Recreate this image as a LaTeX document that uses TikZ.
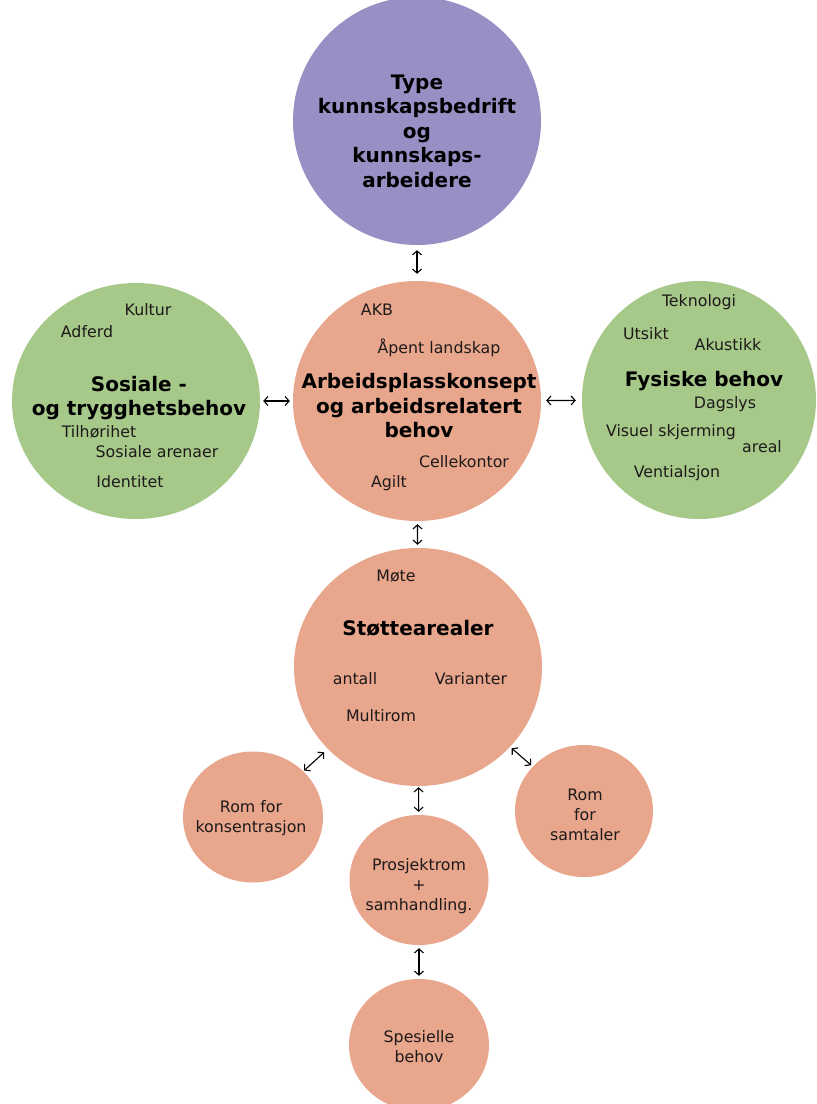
\documentclass[tikz,border=0pt]{standalone}
\usepackage{fontspec}
\setmainfont{DejaVu Sans}
\usetikzlibrary{shapes.geometric,arrows.meta}
\definecolor{lilla}{HTML}{9890C5}
\definecolor{laks}{HTML}{E8A68C}
\definecolor{gress}{HTML}{A6C98A}
\definecolor{skrift}{HTML}{1E1A1A}
\begin{document}
\begin{tikzpicture}[x=1pt,y=-1pt,
  blob/.style={ellipse,inner sep=0pt,draw=none},
  big/.style={font=\fontsize{20}{24.5}\selectfont\bfseries,align=center,inner sep=0pt,text=black},
  small/.style={font=\fontsize{15.8}{20}\selectfont,inner sep=0pt,align=center,text=skrift},
  tip/.tip={Straight Barb[length=4pt,width=9pt]},
  link/.style={tip-tip,line width=1.1pt,black}
]
\useasboundingbox (0,0) rectangle (817,1104);
\fill[white] (0,0) rectangle (817,1104);

% circles
\node[blob,fill=lilla,minimum width=248pt,minimum height=248pt] (type) at (417,121) {};
\node[blob,fill=laks,minimum width=248pt,minimum height=240pt] (arb) at (417,401) {};
\node[blob,fill=gress,minimum width=248pt,minimum height=236pt] (sos) at (136,401) {};
\node[blob,fill=gress,minimum width=234pt,minimum height=238pt] (fys) at (699,400) {};
\node[blob,fill=laks,minimum width=248pt,minimum height=238pt] (stot) at (418,667) {};
\node[blob,fill=laks,minimum width=140pt,minimum height=131pt] (kons) at (253,817) {};
\node[blob,fill=laks,minimum width=138pt,minimum height=132pt] (samt) at (584,811) {};
\node[blob,fill=laks,minimum width=139pt,minimum height=130pt] (prosj) at (419,880) {};
\node[blob,fill=laks,minimum width=140pt,minimum height=132pt] (spes) at (419,1045) {};

% connectors
\draw[link,shorten <=5pt,shorten >=7pt] (type) -- (arb);
\draw[link,shorten <=3pt,shorten >=3pt] (sos) -- (arb);
\draw[link,shorten <=5pt,shorten >=6pt] (arb) -- (fys);
\draw[link,shorten <=3pt,shorten >=3pt] (arb) -- (stot);
\draw[link,shorten <=5pt,shorten >=1pt] (stot) -- (kons);
\draw[link,shorten <=2pt,shorten >=2pt] (stot) -- (samt);
\draw[link,shorten <=1pt,shorten >=3pt] (stot) -- (prosj);
\draw[link,shorten <=3pt,shorten >=3pt] (prosj) -- (spes);

% top circle
\node[big] (typet) at (417,131) {Type\\kunnskapsbedrift\\og\\kunnskaps-\\arbeidere};

% workplace concept
\node[big] (arbt) at (419,406) {Arbeidsplasskonsept\\og arbeidsrelatert\\behov};
\node[small] (akb) at (377,310) {AKB};
\node[small] (apent) at (439,348) {Åpent landskap};
\node[small] (celle) at (464,462) {Cellekontor};
\node[small] (agilt) at (389,483) {Agilt};

% social needs
\node[big] (sost) at (139,398) {Sosiale -\\og trygghetsbehov};
\node[small] (kultur) at (148,310) {Kultur};
\node[small] (adferd) at (87,332) {Adferd};
\node[small] (tilh) at (99,432) {Tilhørihet};
\node[small] (arena) at (157,452) {Sosiale arenaer};
\node[small] (ident) at (130,482) {Identitet};

% physical needs
\node[big] (fyst) at (704,381) {Fysiske behov};
\node[small] (tekn) at (699,302) {Teknologi};
\node[small] (utsikt) at (646,334) {Utsikt};
\node[small] (akust) at (728,345) {Akustikk};
\node[small] (dags) at (725,404) {Dagslys};
\node[small] (visuel) at (671,432) {Visuel skjerming};
\node[small] (areal) at (762,447) {areal};
\node[small] (vent) at (677,473) {Ventialsjon};

% support areas
\node[big] (stott) at (418,628) {Støttearealer};
\node[small] (mote) at (396,576) {Møte};
\node[small] (antall) at (355,679) {antall};
\node[small] (var) at (471,679) {Varianter};
\node[small] (multi) at (381,716) {Multirom};

% small rooms
\node[small] (konst) at (251,818) {Rom for\\konsentrasjon};
\node[small] (samtt) at (585,815) {Rom\\for\\samtaler};
\node[small] (prosjt) at (419,886) {Prosjektrom\\+\\samhandling.};
\node[small] (spest) at (419,1047) {Spesielle\\behov};
\end{tikzpicture}
\end{document}
